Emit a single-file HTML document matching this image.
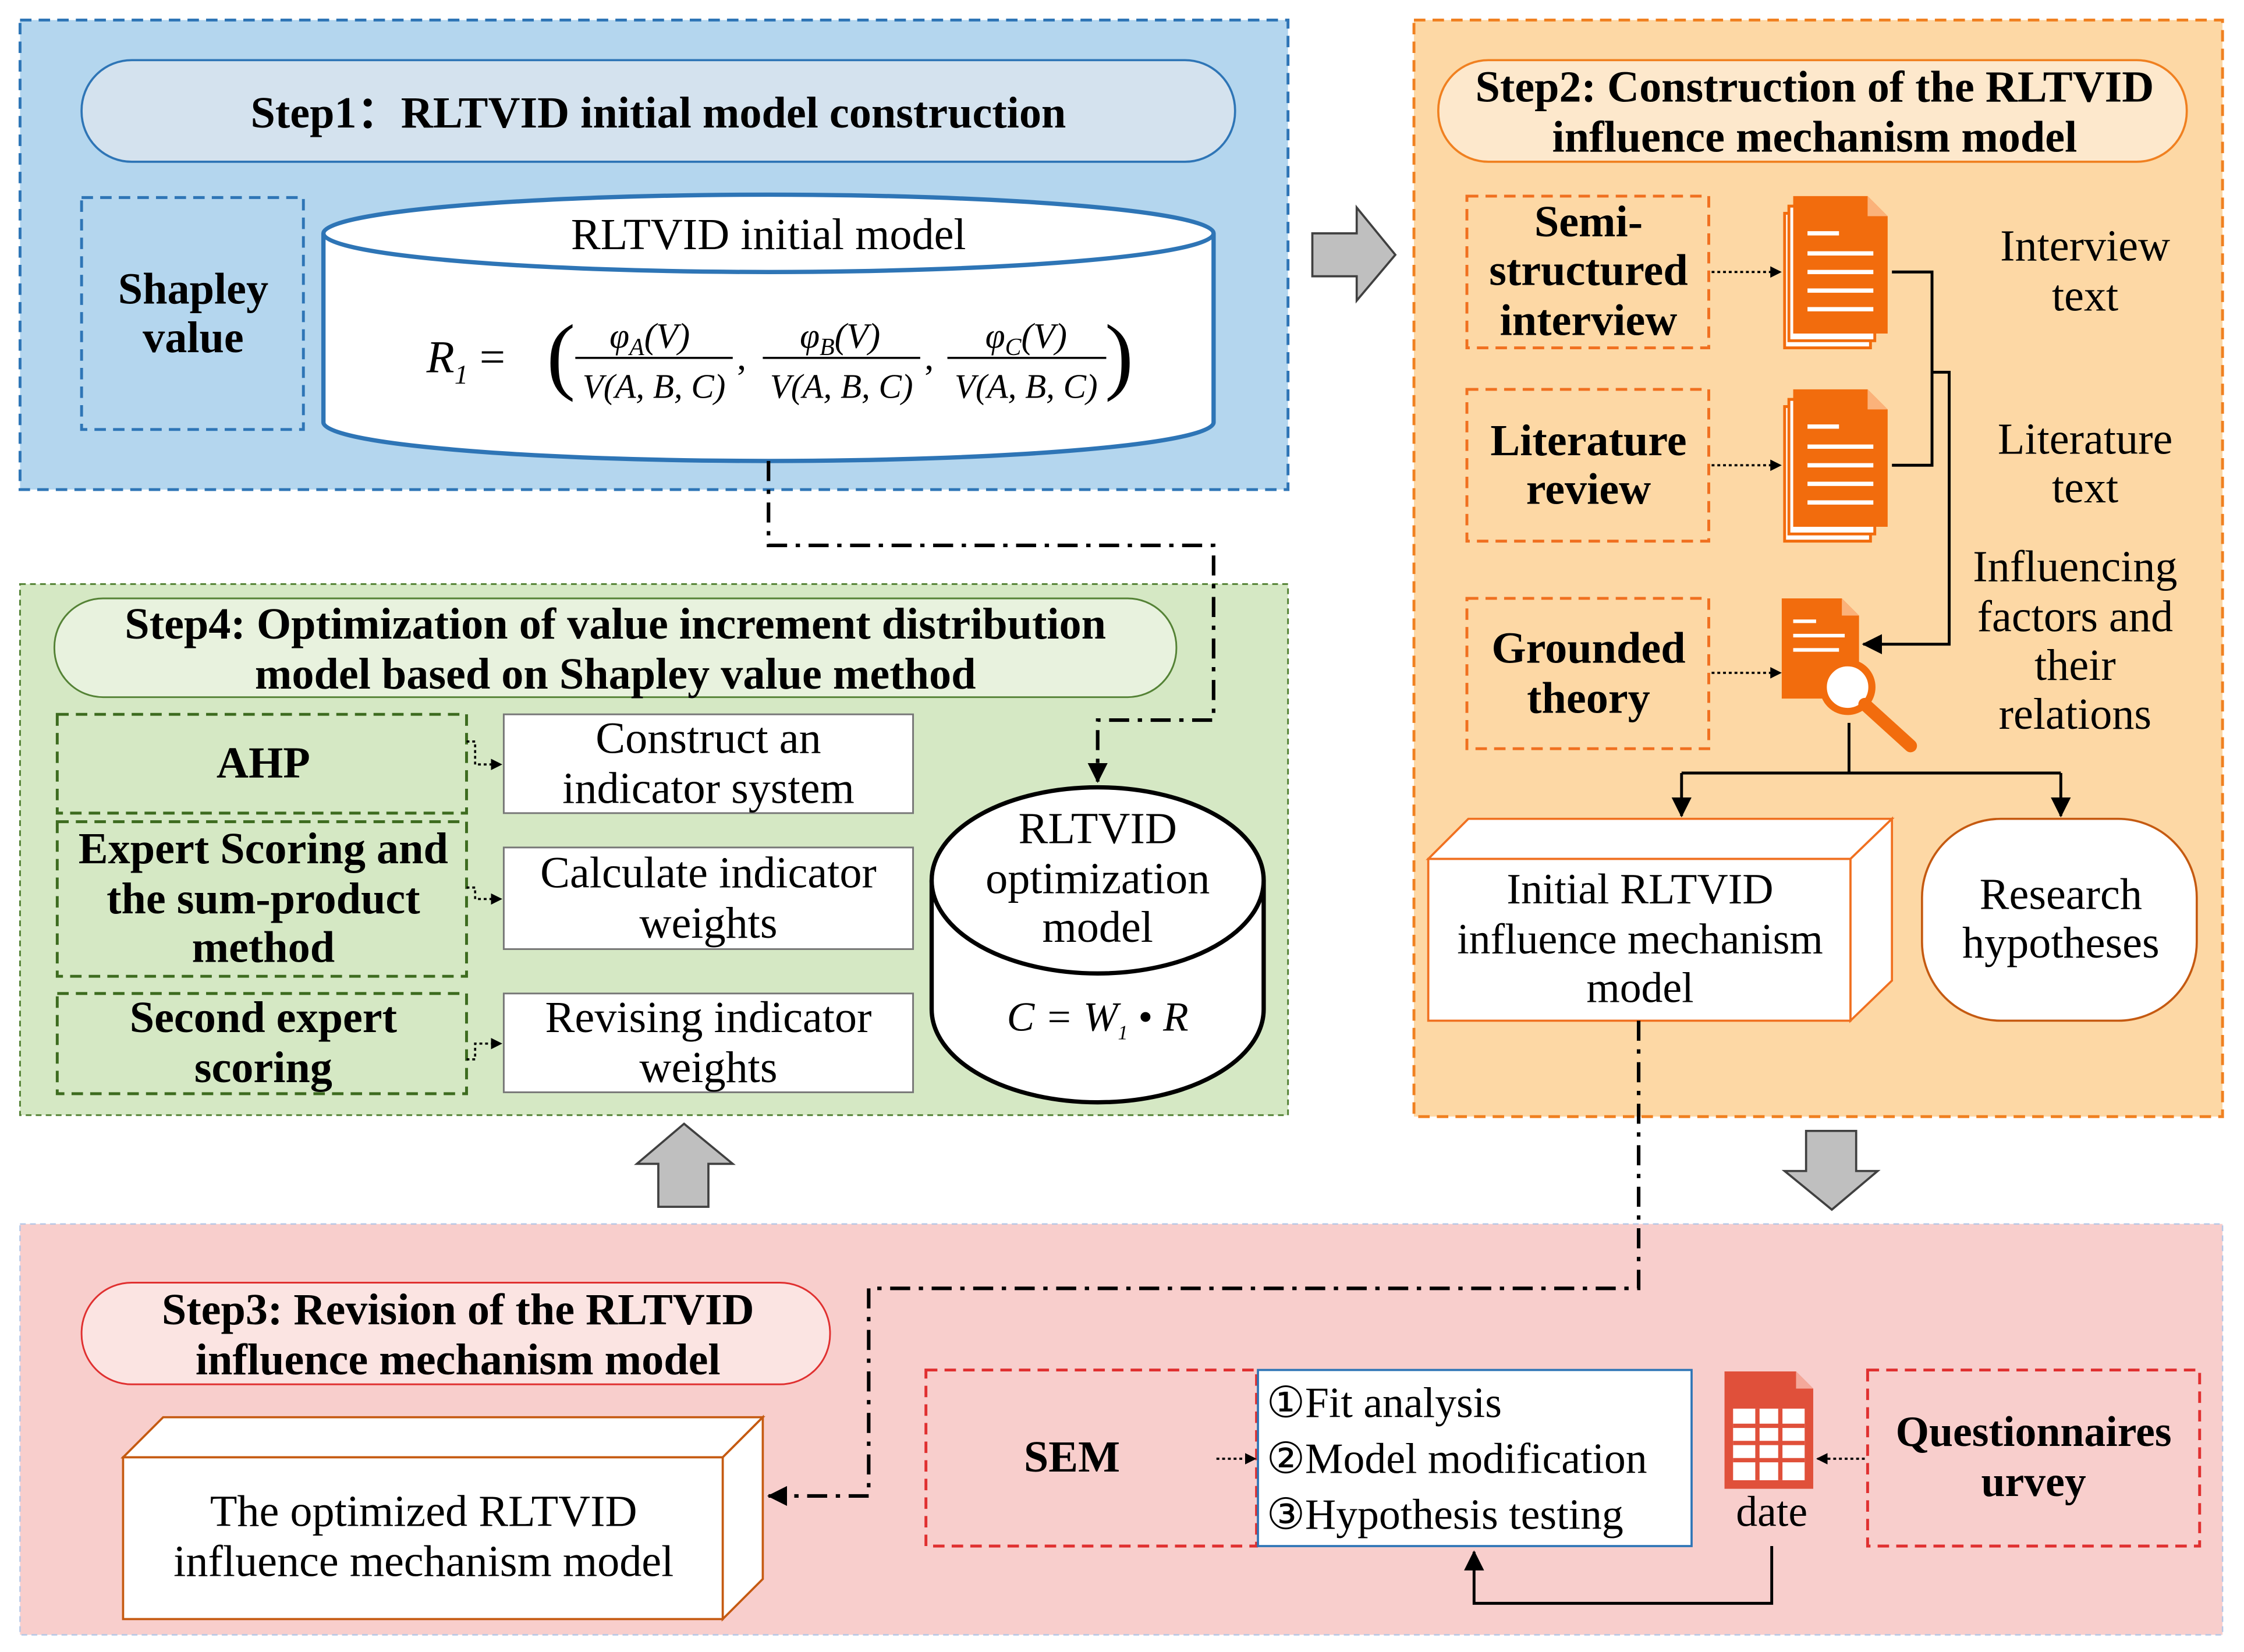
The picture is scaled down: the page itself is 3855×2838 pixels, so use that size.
<!DOCTYPE html>
<html><head><meta charset="utf-8"><style>
html,body{margin:0;padding:0;background:#fff}
svg{display:block}
text{font-family:"Liberation Serif",serif;fill:#000}
.b{font-weight:bold}
</style></head><body>
<svg width="3855" height="2838" viewBox="0 0 1568 1154" preserveAspectRatio="none" xmlns="http://www.w3.org/2000/svg">
<defs>
<marker id="ah" markerWidth="8" markerHeight="8" refX="7" refY="4" orient="auto" markerUnits="userSpaceOnUse"><path d="M0,0 L8,4 L0,8 Z" fill="#000"/></marker>
<marker id="ah2" markerWidth="14" markerHeight="14" refX="13" refY="7" orient="auto" markerUnits="userSpaceOnUse"><path d="M0,0 L14,7 L0,14 Z" fill="#000"/></marker>
</defs>
<rect width="1568" height="1154" fill="#fff"/>
<!-- Step1 -->
<rect x="14" y="14" width="886" height="328" fill="#b4d6ee" stroke="#2e75b6" stroke-width="2" stroke-dasharray="8,5"/>
<rect x="57" y="42" width="806" height="71" rx="35" fill="#d4e2ee" stroke="#2e75b6" stroke-width="1.5"/>
<text x="460" y="89" font-size="31" class="b" text-anchor="middle">Step1：RLTVID initial model construction</text>
<rect x="57" y="138" width="155" height="162" fill="none" stroke="#2e75b6" stroke-width="2" stroke-dasharray="8,5"/>
<text x="135" y="212" font-size="31" class="b" text-anchor="middle">Shapley</text>
<text x="135" y="246" font-size="31" class="b" text-anchor="middle">value</text>
<path d="M226,163 L226,295 A311,27 0 0 0 848,295 L848,163" fill="#fff" stroke="#2e75b6" stroke-width="3"/>
<ellipse cx="537" cy="163" rx="311" ry="27" fill="#fff" stroke="#2e75b6" stroke-width="3"/>
<text x="537" y="174" font-size="31" text-anchor="middle">RLTVID initial model</text>
<text x="298" y="260" font-size="32" font-style="italic">R<tspan font-size="19" dy="8">1</tspan><tspan dy="-8" font-style="normal"> = </tspan></text>
<text x="382" y="268" font-size="60" font-weight="100">(</text>
<text x="454" y="243" font-size="25" font-style="italic" text-anchor="middle">φ<tspan font-size="17" dy="5">A</tspan><tspan dy="-5">(V)</tspan></text>
<line x1="402" y1="250" x2="512" y2="250" stroke="#000" stroke-width="1.5"/>
<text x="457" y="278" font-size="24" font-style="italic" text-anchor="middle">V(A, B, C)</text>
<text x="515" y="258" font-size="26">,</text>
<text x="587" y="243" font-size="25" font-style="italic" text-anchor="middle">φ<tspan font-size="17" dy="5">B</tspan><tspan dy="-5">(V)</tspan></text>
<line x1="533" y1="250" x2="643" y2="250" stroke="#000" stroke-width="1.5"/>
<text x="588" y="278" font-size="24" font-style="italic" text-anchor="middle">V(A, B, C)</text>
<text x="646" y="258" font-size="26">,</text>
<text x="717" y="243" font-size="25" font-style="italic" text-anchor="middle">φ<tspan font-size="17" dy="5">C</tspan><tspan dy="-5">(V)</tspan></text>
<line x1="662" y1="250" x2="773" y2="250" stroke="#000" stroke-width="1.5"/>
<text x="717" y="278" font-size="24" font-style="italic" text-anchor="middle">V(A, B, C)</text>
<text x="772" y="268" font-size="60" font-weight="100">)</text>
<!-- right gray arrow -->
<path d="M917,163 L948,163 L948,145 L975,178 L948,210 L948,193 L917,193 Z" fill="#bfbfbf" stroke="#404040" stroke-width="1.5"/>
<!-- Step2 -->
<rect x="988" y="14" width="565" height="766" fill="#fdd8a5" stroke="#f08020" stroke-width="2" stroke-dasharray="8,5"/>
<rect x="1005" y="42" width="523" height="71" rx="35" fill="#fde8cc" stroke="#f08020" stroke-width="1.5"/>
<text x="1268" y="71" font-size="31" class="b" text-anchor="middle">Step2:   Construction of the RLTVID</text>
<text x="1268" y="106" font-size="31" class="b" text-anchor="middle">influence mechanism model</text>
<g fill="none" stroke="#f07020" stroke-width="2" stroke-dasharray="8,5">
<rect x="1025" y="137" width="169" height="106"/>
<rect x="1025" y="272" width="169" height="106"/>
<rect x="1025" y="418" width="169" height="105"/>
</g>
<g font-size="31" class="b" text-anchor="middle">
<text x="1110" y="165">Semi-</text><text x="1110" y="199">structured</text><text x="1110" y="234">interview</text>
<text x="1110" y="318">Literature</text><text x="1110" y="352">review</text>
<text x="1110" y="463">Grounded</text><text x="1110" y="498">theory</text>
</g>
<g stroke="#000" stroke-width="1.5" fill="none" stroke-dasharray="2,2">
<line x1="1196" y1="190" x2="1244" y2="190" marker-end="url(#ah)"/>
<line x1="1196" y1="325" x2="1244" y2="325" marker-end="url(#ah)"/>
<line x1="1196" y1="470" x2="1244" y2="470" marker-end="url(#ah)"/>
</g>
<!-- doc icons -->
<g>
<g transform="translate(1247,137)">
<path d="M0,12 L60,12 L60,106 L0,106 Z" fill="#fff" stroke="#f26c0d" stroke-width="2"/>
<path d="M3,7 L63,7 L63,101 L3,101 Z" fill="#fff" stroke="#f26c0d" stroke-width="2"/>
<path d="M6,0 L58,0 L72,14 L72,96 L6,96 Z" fill="#f26c0d"/>
<path d="M58,0 L58,14 L72,14 Z" fill="#fbb27a"/>
<g stroke="#fff" stroke-width="3"><line x1="16" y1="26" x2="38" y2="26"/><line x1="16" y1="40" x2="62" y2="40"/><line x1="16" y1="53" x2="62" y2="53"/><line x1="16" y1="66" x2="62" y2="66"/><line x1="16" y1="79" x2="62" y2="79"/></g>
</g>
<g transform="translate(1247,272)">
<path d="M0,12 L60,12 L60,106 L0,106 Z" fill="#fff" stroke="#f26c0d" stroke-width="2"/>
<path d="M3,7 L63,7 L63,101 L3,101 Z" fill="#fff" stroke="#f26c0d" stroke-width="2"/>
<path d="M6,0 L58,0 L72,14 L72,96 L6,96 Z" fill="#f26c0d"/>
<path d="M58,0 L58,14 L72,14 Z" fill="#fbb27a"/>
<g stroke="#fff" stroke-width="3"><line x1="16" y1="26" x2="38" y2="26"/><line x1="16" y1="40" x2="62" y2="40"/><line x1="16" y1="53" x2="62" y2="53"/><line x1="16" y1="66" x2="62" y2="66"/><line x1="16" y1="79" x2="62" y2="79"/></g>
</g>
<g transform="translate(1245,418)">
<path d="M0,0 L42,0 L54,12 L54,70 L0,70 Z" fill="#f26c0d"/>
<path d="M42,0 L42,12 L54,12 Z" fill="#fbb27a"/>
<g stroke="#fff" stroke-width="2.5"><line x1="8" y1="16" x2="24" y2="16"/><line x1="8" y1="26" x2="44" y2="26"/><line x1="8" y1="36" x2="40" y2="36"/></g>
<circle cx="46" cy="62" r="17" fill="#fff" stroke="#f26c0d" stroke-width="5"/>
<line x1="58" y1="74" x2="90" y2="103" stroke="#f26c0d" stroke-width="9" stroke-linecap="round"/>
</g>
</g>
<g font-size="31" text-anchor="middle">
<text x="1457" y="182">Interview</text><text x="1457" y="217">text</text>
<text x="1457" y="317">Literature</text><text x="1457" y="351">text</text>
<text x="1450" y="406">Influencing</text><text x="1450" y="441">factors and</text><text x="1450" y="475">their</text><text x="1450" y="509">relations</text>
</g>
<g stroke="#000" stroke-width="2" fill="none">
<polyline points="1322,190 1350,190 1350,325 1322,325"/>
<polyline points="1350,260 1362,260 1362,450 1302,450" marker-end="url(#ah2)"/>
<line x1="1292" y1="505" x2="1292" y2="540"/>
<line x1="1175" y1="540" x2="1440" y2="540"/>
<line x1="1175" y1="540" x2="1175" y2="570" marker-end="url(#ah2)"/>
<line x1="1440" y1="540" x2="1440" y2="570" marker-end="url(#ah2)"/>
</g>
<!-- 3D box -->
<g fill="#fff" stroke="#f07020" stroke-width="1.5">
<path d="M998,600 L1026,572 L1322,572 L1293,600 Z"/>
<path d="M1293,600 L1322,572 L1322,685 L1293,713 Z"/>
<rect x="998" y="600" width="295" height="113"/>
</g>
<g font-size="30" text-anchor="middle">
<text x="1146" y="631">Initial RLTVID</text><text x="1146" y="666">influence mechanism</text><text x="1146" y="700">model</text>
</g>
<rect x="1343" y="572" width="192" height="141" rx="55" fill="#fff" stroke="#c55a11" stroke-width="1.5"/>
<text x="1440" y="635" font-size="31" text-anchor="middle">Research</text>
<text x="1440" y="669" font-size="31" text-anchor="middle">hypotheses</text>
<!-- down gray arrow -->
<path d="M1262,790 L1297,790 L1297,818 L1312,818 L1280,845 L1247,818 L1262,818 Z" fill="#bfbfbf" stroke="#404040" stroke-width="1.5"/>
<!-- Step4 -->
<rect x="14" y="408" width="886" height="371" fill="#d5e8c4" stroke="#548235" stroke-width="1.2" stroke-dasharray="4,3"/>
<rect x="38" y="418" width="784" height="69" rx="34" fill="#e8f2de" stroke="#548235" stroke-width="1.2"/>
<text x="430" y="446" font-size="31" class="b" text-anchor="middle">Step4:   Optimization of value increment distribution</text>
<text x="430" y="481" font-size="31" class="b" text-anchor="middle">model based on Shapley value method</text>
<g fill="none" stroke="#3d6b1f" stroke-width="2" stroke-dasharray="8,5">
<rect x="40" y="499" width="286" height="69"/>
<rect x="40" y="574" width="286" height="108"/>
<rect x="40" y="694" width="286" height="70"/>
</g>
<g font-size="31" class="b" text-anchor="middle">
<text x="184" y="543">AHP</text>
<text x="184" y="603">Expert Scoring and</text><text x="184" y="638">the sum-product</text><text x="184" y="672">method</text>
<text x="184" y="721">Second expert</text><text x="184" y="756">scoring</text>
</g>
<g fill="#fff" stroke="#777" stroke-width="1.2">
<rect x="352" y="499" width="286" height="69"/>
<rect x="352" y="592" width="286" height="71"/>
<rect x="352" y="694" width="286" height="69"/>
</g>
<g font-size="31" text-anchor="middle">
<text x="495" y="526">Construct an</text><text x="495" y="561">indicator system</text>
<text x="495" y="620">Calculate indicator</text><text x="495" y="655">weights</text>
<text x="495" y="721">Revising indicator</text><text x="495" y="756">weights</text>
</g>
<g stroke="#000" stroke-width="1.5" fill="none" stroke-dasharray="2,2">
<polyline points="326,518 332,518 332,534 350,534" marker-end="url(#ah)"/>
<polyline points="326,620 332,620 332,628 350,628" marker-end="url(#ah)"/>
<polyline points="326,740 332,740 332,729 350,729" marker-end="url(#ah)"/>
</g>
<path d="M651,615 L651,705 A116,65 0 0 0 883,705 L883,615" fill="#fff" stroke="#000" stroke-width="3"/>
<ellipse cx="767" cy="615" rx="116" ry="65" fill="#fff" stroke="#000" stroke-width="3"/>
<g font-size="31" text-anchor="middle">
<text x="767" y="589">RLTVID</text><text x="767" y="624">optimization</text><text x="767" y="658">model</text>
</g>
<text x="767" y="720" font-size="29" font-style="italic" text-anchor="middle">C = W<tspan font-size="14" dy="6">1</tspan><tspan dy="-6" font-style="normal"> • </tspan>R</text>
<!-- dash-dot connector step1 -> step4 -->
<polyline points="537,322 537,381 848,381 848,503 767,503 767,546" fill="none" stroke="#000" stroke-width="2.5" stroke-dasharray="14,6,3,6" marker-end="url(#ah2)"/>
<!-- up gray arrow -->
<path d="M460,843 L495,843 L495,813 L512,813 L478,785 L445,813 L460,813 Z" fill="#bfbfbf" stroke="#404040" stroke-width="1.5"/>
<!-- Step3 -->
<rect x="14" y="855" width="1539" height="287" fill="#f8cecc" stroke="#b4c7e7" stroke-width="1" stroke-dasharray="4,3"/>
<rect x="57" y="896" width="523" height="71" rx="35" fill="#fbe4e2" stroke="#e03030" stroke-width="1.2"/>
<text x="320" y="925" font-size="31" class="b" text-anchor="middle">Step3:   Revision  of the RLTVID</text>
<text x="320" y="960" font-size="31" class="b" text-anchor="middle">influence mechanism model</text>
<g fill="#fff" stroke="#c55a11" stroke-width="1.5">
<path d="M86,1018 L114,990 L533,990 L505,1018 Z"/>
<path d="M505,1018 L533,990 L533,1103 L505,1131 Z"/>
<rect x="86" y="1018" width="419" height="113"/>
</g>
<text x="296" y="1066" font-size="31" text-anchor="middle">The optimized RLTVID</text>
<text x="296" y="1101" font-size="31" text-anchor="middle">influence mechanism model</text>
<polyline points="1145,713 1145,900 607,900 607,1045 537,1045" fill="none" stroke="#000" stroke-width="2.5" stroke-dasharray="14,6,3,6" marker-end="url(#ah2)"/>
<rect x="647" y="957" width="231" height="123" fill="none" stroke="#e03030" stroke-width="2" stroke-dasharray="8,5"/>
<text x="749" y="1028" font-size="31" class="b" text-anchor="middle">SEM</text>
<rect x="879" y="957" width="303" height="123" fill="#fff" stroke="#2e75b6" stroke-width="1.5"/>
<g font-size="30">
<text x="885" y="990">①Fit analysis</text><text x="885" y="1029">②Model modification</text><text x="885" y="1068">③Hypothesis testing</text>
</g>
<line x1="850" y1="1019" x2="877" y2="1019" stroke="#000" stroke-width="1.5" stroke-dasharray="2,2" marker-end="url(#ah)"/>
<g transform="translate(1205,958)">
<path d="M0,0 L50,0 L62,12 L62,82 L0,82 Z" fill="#e0503a"/>
<path d="M50,0 L50,12 L62,12 Z" fill="#f4a89a"/>
<rect x="6" y="26" width="50" height="50" fill="#fff"/>
<g stroke="#e0503a" stroke-width="3"><line x1="6" y1="38" x2="56" y2="38"/><line x1="6" y1="50" x2="56" y2="50"/><line x1="6" y1="62" x2="56" y2="62"/><line x1="23" y1="26" x2="23" y2="76"/><line x1="39" y1="26" x2="39" y2="76"/></g>
</g>
<text x="1238" y="1066" font-size="30" text-anchor="middle">date</text>
<rect x="1305" y="957" width="232" height="123" fill="none" stroke="#e03030" stroke-width="2" stroke-dasharray="8,5"/>
<text x="1421" y="1010" font-size="30" class="b" text-anchor="middle">Questionnaires</text>
<text x="1421" y="1045" font-size="30" class="b" text-anchor="middle">urvey</text>
<line x1="1303" y1="1019" x2="1270" y2="1019" stroke="#000" stroke-width="1.5" stroke-dasharray="2,2" marker-end="url(#ah)"/>
<polyline points="1238,1080 1238,1120 1030,1120 1030,1084" fill="none" stroke="#000" stroke-width="2" marker-end="url(#ah2)"/>
</svg>
</body></html>
